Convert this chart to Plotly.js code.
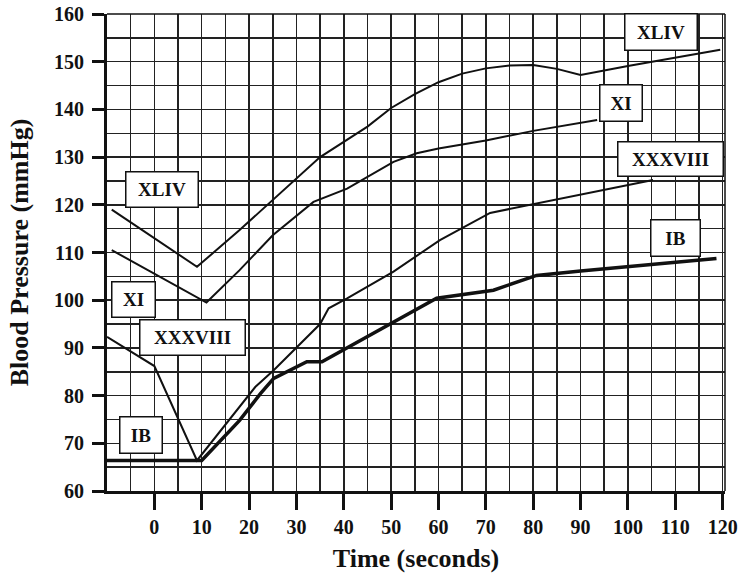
<!DOCTYPE html>
<html>
<head>
<meta charset="utf-8">
<script src="https://cdn.plot.ly/plotly-3.0.1.min.js"></script>
<style>html,body{margin:0;padding:0;background:#fff;}#chart{width:741px;height:576px;}</style>
</head>
<body>
<div id="chart"></div>
<script>
// Series data
const timeXLIV = [-9, 9, 18, 25, 35, 45, 50, 55, 60, 65, 70, 75, 80, 85, 90, 100, 110, 119.5];
const bpXLIV   = [119, 107, 114.7, 121, 130, 136.4, 140.3, 143.2, 145.7, 147.5, 148.6, 149.2, 149.3, 148.5, 147.2, 149.1, 150.9, 152.5];

const timeXI = [-9, 11, 18, 25, 33.6, 40.7, 50.5, 55.4, 60, 70, 80, 93.5];
const bpXI   = [110.5, 99.5, 106.3, 113.6, 120.6, 123.4, 129, 130.8, 131.8, 133.5, 135.5, 137.8];

const timeXXXVIII = [-10, 0, 9, 18, 21.3, 25.2, 35, 36.8, 40.7, 50.5, 60.3, 70.9, 80, 90, 105.3];
const bpXXXVIII   = [92.3, 86.2, 66.4, 77.6, 81.8, 85.3, 95, 98.3, 100.4, 106, 112.6, 118.3, 120.1, 122.1, 125.2];

const timeIB = [-10, 10, 18, 22.4, 25.2, 32.2, 35.4, 40, 50.1, 59.6, 71.6, 80.7, 90, 100, 110, 118.7];
const bpIB   = [66.4, 66.4, 74.8, 80.4, 83.6, 87.1, 87.1, 89.6, 95.1, 100.4, 102.1, 105.2, 106.1, 107, 108, 108.75];

const xTicks = [0, 10, 20, 30, 40, 50, 60, 70, 80, 90, 100, 110, 120];
const yTicks = [60, 70, 80, 90, 100, 110, 120, 130, 140, 150, 160];
const seriesNames = ['XLIV', 'XI', 'XXXVIII', 'IB'];

const serif = 'Liberation Serif, Times New Roman, serif';

const traces = [
  {x: timeXLIV, y: bpXLIV, name: seriesNames[0], mode: 'lines', line: {color: '#111', width: 2}},
  {x: timeXI, y: bpXI, name: seriesNames[1], mode: 'lines', line: {color: '#111', width: 2}},
  {x: timeXXXVIII, y: bpXXXVIII, name: seriesNames[2], mode: 'lines', line: {color: '#111', width: 2}},
  {x: timeIB, y: bpIB, name: seriesNames[3], mode: 'lines', line: {color: '#111', width: 3.5}}
];

function label(text, x, y, w, h) {
  return {
    text: text, x: x, y: y, xref: 'x', yref: 'y', showarrow: false,
    font: {family: serif, size: 19, color: '#111', weight: 'bold'},
    bgcolor: '#fff', bordercolor: '#111', borderwidth: 1.5, borderpad: 0,
    width: w, height: h, align: 'center', valign: 'middle'
  };
}

const annotations = [
  label(seriesNames[0], 1.6, 123.2, 71, 34),
  label(seriesNames[1], -4.3, 100.1, 42, 34),
  label(seriesNames[2], 8.1, 92.2, 104, 34),
  label(seriesNames[3], -2.8, 71.75, 41, 35),
  label(seriesNames[0], 106.9, 156.2, 71, 35),
  label(seriesNames[1], 98.5, 141.3, 41, 35),
  label(seriesNames[2], 108.9, 129.7, 104, 33),
  label(seriesNames[3], 110, 113.1, 48, 35)
];

const gridCol = '#222';

const layout = {
  width: 741, height: 576,
  margin: {l: 107, r: 16, t: 14, b: 85},
  paper_bgcolor: '#fff', plot_bgcolor: '#fff',
  showlegend: false,
  xaxis: {
    range: [-10, 120.5], tickmode: 'array', tickvals: xTicks, ticktext: xTicks.map(String),
    showgrid: true, gridcolor: gridCol, gridwidth: 1.5,
    minor: {tickmode: 'linear', tick0: 0, dtick: 5, showgrid: true, gridcolor: gridCol, gridwidth: 1.5, ticks: ''},
    ticks: 'outside', ticklen: 16, tickwidth: 3, tickcolor: '#111',
    showline: true, linewidth: 3, linecolor: '#111',
    tickfont: {family: serif, size: 20, color: '#111', weight: 'bold'},
    zeroline: false,
    title: {text: 'Time (seconds)', font: {family: serif, size: 26, color: '#111', weight: 'bold'}, standoff: 12}
  },
  yaxis: {
    range: [60, 160], tickmode: 'array', tickvals: yTicks, ticktext: yTicks.map(String),
    showgrid: true, gridcolor: gridCol, gridwidth: 1.5,
    minor: {tickmode: 'linear', tick0: 60, dtick: 5, showgrid: true, gridcolor: gridCol, gridwidth: 1.5, ticks: ''},
    ticks: 'outside', ticklen: 12, tickwidth: 3, tickcolor: '#111',
    showline: true, linewidth: 3, linecolor: '#111',
    tickfont: {family: serif, size: 20, color: '#111', weight: 'bold'},
    ticklabelstandoff: 4,
    zeroline: false,
    title: {text: 'Blood Pressure (mmHg)', font: {family: serif, size: 26, color: '#111', weight: 'bold'}, standoff: 18}
  },
  shapes: [
    {type: 'line', xref: 'paper', yref: 'paper', x0: 1, x1: 1, y0: 0, y1: 1, line: {color: '#111', width: 1.5}},
    {type: 'line', xref: 'paper', yref: 'paper', x0: 0, x1: 1, y0: 1, y1: 1, line: {color: '#111', width: 1.5}}
  ],
  annotations: annotations
};

Plotly.newPlot('chart', traces, layout, {displayModeBar: false, staticPlot: true});
</script>
</body>
</html>
